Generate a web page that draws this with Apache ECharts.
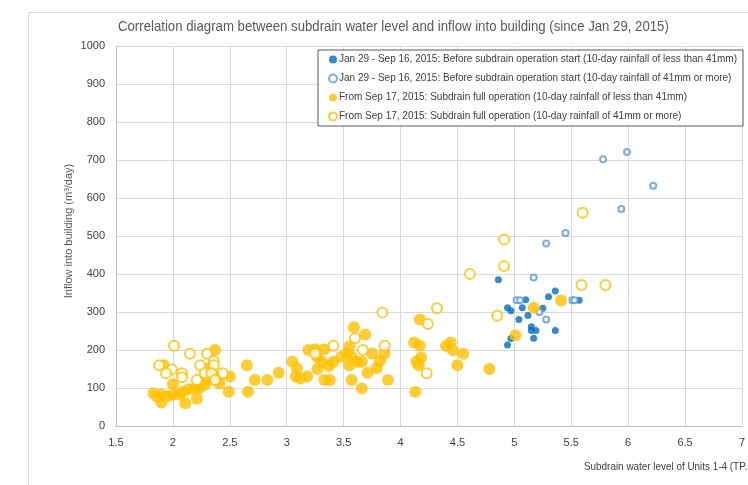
<!DOCTYPE html>
<html>
<head>
<meta charset="utf-8">
<script src="https://cdn.jsdelivr.net/npm/echarts@6/dist/echarts.min.js"></script>
<style>html,body{margin:0;padding:0;background:#fff}#c{width:748px;height:485px}</style>
</head>
<body>
<div id="c"></div>
<script>
var titleText = 'Correlation diagram between subdrain water level and inflow into building (since Jan 29, 2015)';
var xAxisName = 'Subdrain water level of Units 1-4 (TP.m)';
var yAxisName = 'Inflow into building (m³/day)';
var seriesNames = [
  'Jan 29 - Sep 16, 2015: Before subdrain operation start (10-day rainfall of less than 41mm)',
  'Jan 29 - Sep 16, 2015: Before subdrain operation start (10-day rainfall of 41mm or more)',
  'From Sep 17, 2015: Subdrain full operation (10-day rainfall of less than 41mm)',
  'From Sep 17, 2015: Subdrain full operation (10-day rainfall of 41mm or more)'
];
var xTicks = [1.5, 2, 2.5, 3, 3.5, 4, 4.5, 5, 5.5, 6, 6.5, 7];
var yTicks = [0, 100, 200, 300, 400, 500, 600, 700, 800, 900, 1000];

var blueFilled = [
  [4.86,385],[5.36,355],[5.30,340],[5.10,332],[5.57,331],[4.94,311],[4.97,303],[5.07,311],[5.25,310],
  [5.12,291],[5.04,280],[5.15,261],[5.15,251],[5.19,251],[5.36,251],[5.17,231],[4.97,230],[4.94,213]
];
var blueHollow = [
  [5.17,391],[5.02,331],[5.05,331],[5.51,331],[5.53,331],[5.22,300],[5.28,280],
  [5.78,702],[5.99,721],[6.22,632],[5.94,571],[5.45,508],[5.28,480]
];
var orangeFilled = [
  [5.41,330],[5.17,311],[5.01,239],
  [4.17,280],[4.12,220],[4.17,211],[4.40,211],[4.44,220],[4.46,199],[4.55,190],[4.18,180],[4.14,169],
  [4.16,160],[4.50,160],[4.78,150],[4.13,90],
  [3.59,260],[3.69,241],[3.55,209],[3.48,182],[3.53,191],[3.57,182],[3.55,160],[3.62,169],[3.66,169],
  [3.75,191],[3.82,172],[3.86,191],[3.79,152],[3.71,140],[3.57,121],[3.66,99],[3.89,121],
  [2.83,121],[2.93,140],[3.05,169],[3.09,152],[3.08,130],[3.12,125],[3.18,130],[3.19,200],[3.25,202],
  [3.33,202],[3.27,181],[3.31,169],[3.41,169],[3.37,158],[3.27,150],[3.33,121],[3.38,121],
  [2.37,200],[1.92,160],[2.31,152],[2.50,130],[2.65,160],[2.72,121],[2.49,90],[2.66,90],[2.00,110],
  [1.83,86],[1.86,77],[1.90,83],[1.90,62],[2.11,60],[2.21,72],[2.00,82],[2.06,83],[2.09,90],[2.14,97],
  [2.19,99],[2.23,99],[2.28,108],[2.31,121],[2.37,130],[2.41,112],[1.95,78]
];
var orangeHollow = [
  [5.60,561],[4.91,491],[4.91,421],[5.59,371],[5.80,371],[4.85,290],[4.61,400],[4.32,310],[4.24,269],
  [4.23,139],[3.84,299],[3.60,231],[3.41,211],[3.67,200],[3.86,211],[3.25,191],
  [2.01,211],[2.15,190],[2.30,190],[1.88,160],[1.99,149],[1.94,139],[2.08,139],[2.08,128],[2.24,160],
  [2.36,171],[2.36,160],[2.28,139],[2.34,139],[2.44,139],[2.21,121],[2.37,121]
];

var SANS = '"Liberation Sans", Arial, sans-serif';
var chart = echarts.init(document.getElementById('c'), null, {renderer: 'canvas'});
chart.setOption({
  animation: false,
  backgroundColor: '#fff',
  graphic: [
    {type: 'rect', left: 26, top: 10, z: -10, silent: true,
     shape: {x: 0, y: 0, width: 800, height: 600},
     style: {fill: 'none', stroke: '#d9d9d9', lineWidth: 1}},
    {type: 'text', x: 118, y: 27, scaleX: 0.91, originX: 0, originY: 0,
     style: {text: titleText, font: '14.5px ' + SANS, fill: '#595959', textVerticalAlign: 'middle'}},
    {type: 'text', x: 584, y: 467, scaleX: 0.9, originX: 0, originY: 0,
     style: {text: xAxisName, font: '11px ' + SANS, fill: '#404040', textVerticalAlign: 'middle'}},
    {type: 'text', x: 69, y: 231, rotation: Math.PI / 2, originX: 0, originY: 0,
     style: {text: yAxisName, font: '11px ' + SANS, fill: '#595959', textAlign: 'center', textVerticalAlign: 'middle'}}
  ],
  legend: {
    orient: 'vertical', left: 318, top: 50,
    padding: [4, 6, 4, 10],
    itemGap: 8, itemWidth: 8, itemHeight: 8,
    backgroundColor: '#fff', borderColor: '#595959', borderWidth: 1,
    textStyle: {fontFamily: SANS, fontSize: 10, lineHeight: 11, color: '#404040', padding: [0, 0, 0, -3]},
    data: seriesNames
  },
  grid: {left: 116, right: 3, top: 46, bottom: 59, containLabel: false},
  xAxis: {
    type: 'value', min: xTicks[0], max: xTicks[xTicks.length - 1], interval: 0.5,
    axisLine: {show: true, onZero: false, lineStyle: {color: '#bfbfbf'}},
    axisTick: {show: false},
    axisLabel: {margin: 11, fontFamily: SANS, fontSize: 11, color: '#404040', showMaxLabel: true,
      formatter: function (v) { return String(v); }},
    splitLine: {show: true, lineStyle: {color: '#d9d9d9'}}
  },
  yAxis: {
    type: 'value', min: yTicks[0], max: yTicks[yTicks.length - 1], interval: 100,
    axisLine: {show: true, lineStyle: {color: '#bfbfbf'}},
    axisTick: {show: false},
    axisLabel: {margin: 11, fontFamily: SANS, fontSize: 11, color: '#404040',
      formatter: function (v) { return String(v); }},
    splitLine: {show: true, lineStyle: {color: '#d9d9d9'}}
  },
  series: [
    {name: seriesNames[0], type: 'scatter', data: blueFilled, symbol: 'circle', symbolSize: 7,
     itemStyle: {color: '#0070C0'}},
    {name: seriesNames[1], type: 'scatter', data: blueHollow, symbol: 'emptyCircle', symbolSize: 6,
     itemStyle: {color: '#5B9BD5', borderWidth: 1.3}},
    {name: seriesNames[2], type: 'scatter', data: orangeFilled, symbol: 'circle', symbolSize: 12,
     itemStyle: {color: '#FFC000'}},
    {name: seriesNames[3], type: 'scatter', data: orangeHollow, symbol: 'emptyCircle', symbolSize: 10,
     itemStyle: {color: '#FFC000', borderWidth: 1.5}}
  ]
});
</script>
</body>
</html>
